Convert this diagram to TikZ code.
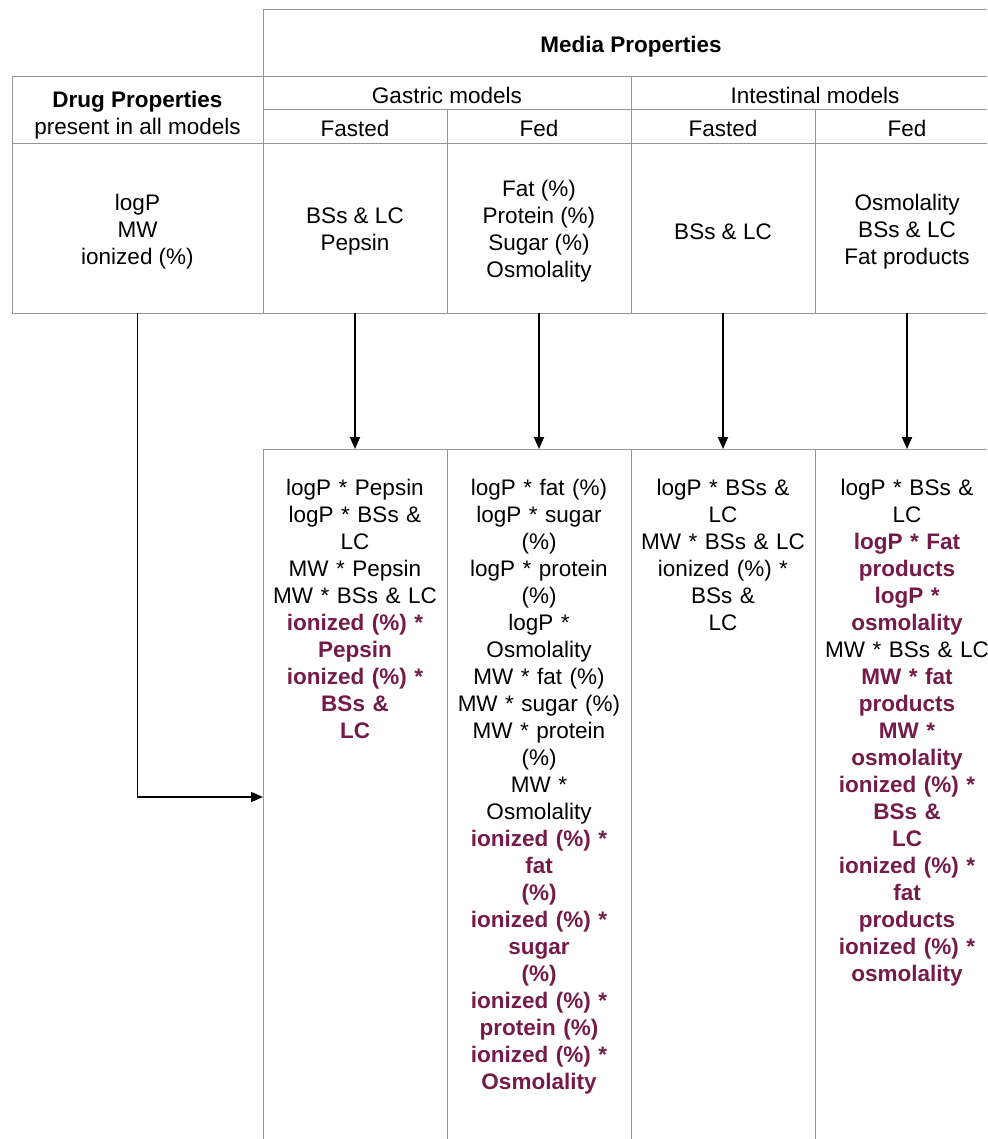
\documentclass[tikz,border=0pt]{standalone}
\usepackage{fontspec}
\setmainfont{Liberation Sans}
\usetikzlibrary{arrows.meta,positioning}
\definecolor{termpurple}{RGB}{116,27,71}
\definecolor{rulegray}{RGB}{150,150,150}
\newcommand{\kt}{\bfseries\color{termpurple}}

\begin{document}
\begin{tikzpicture}[x=0.5pt,y=-0.5pt,
      font=\fontsize{11.25}{13.5}\selectfont,
      rule/.style={draw=rulegray, line width=0.5pt},
      arr/.style={-{Triangle[length=6pt,width=5pt]}, line width=0.9pt, black},
      hd/.style={inner sep=0pt, align=center},
      cell/.style={minimum width=92pt, minimum height=81.5pt, inner sep=0pt, align=center},
      res/.style={anchor=north, align=center, text width=90pt, inner xsep=0pt, inner ysep=14.8pt}]
    \useasboundingbox (0,0) rectangle (987,1139);

    % table lines, top part
    \draw[rule] (263,10) -- (987,10);
    \draw[rule] (12,77) -- (987,77);
    \draw[rule] (263,110) -- (987,110);
    \draw[rule] (12,144) -- (987,144);
    \draw[rule] (12,313) -- (987,313);
    \draw[rule] (12,77) -- (12,313);
    \draw[rule] (263,10) -- (263,313);
    \draw[rule] (631,77) -- (631,313);
    \draw[rule] (447,110) -- (447,313);
    \draw[rule] (815,110) -- (815,313);
    % table lines, bottom part
    \draw[rule] (263,449) -- (987,449);
    \foreach \x in {263,447,631,815}
      \draw[rule] (\x,449) -- (\x,1139);

    % headers
    \node[hd, font=\fontsize{11.25}{13.5}\selectfont\bfseries] (media) at (631,47) {Media Properties};
    \node[hd] (drughd) at (137.5,115) {\textbf{Drug Properties}\\present in all models};
    \node[hd] (gastric) at (447,95) {Gastric models};
    \node[hd] (intest) at (815,95) {Intestinal models};
    \node[hd] (gfasthd) at (355,128) {Fasted};
    \node[hd] (gfedhd) at (539,128) {Fed};
    \node[hd] (ifasthd) at (723,128) {Fasted};
    \node[hd] (ifedhd) at (907,128) {Fed};

    % property cells
    \node[cell, minimum width=125.5pt] (drug) at (137.5,231.5) {logP\\MW\\ionized (\%)};
    \node[cell] (gfast) at (355,231.5) {BSs \& LC\\Pepsin};
    \node[cell] (gfed) at (539,231.5) {Fat (\%)\\Protein (\%)\\Sugar (\%)\\Osmolality};
    \node[cell] (ifast) at (723,231.5) {BSs \& LC};
    \node[cell] (ifed) at (907,231.5) {Osmolality\\BSs \& LC\\Fat products};

    % interaction cells
    \node[res] (rgfast) at (355,449) {logP * Pepsin\\logP * BSs \&\\LC\\MW * Pepsin\\MW * BSs \& LC\\
      {\kt ionized (\%) *\\Pepsin\\ionized (\%) *\\BSs \&\\LC}};
    \node[res] (rgfed) at (539,449) {logP * fat (\%)\\logP * sugar\\(\%)\\logP * protein\\(\%)\\logP *\\Osmolality\\
      MW * fat (\%)\\MW * sugar (\%)\\MW * protein\\(\%)\\MW *\\Osmolality\\
      {\kt ionized (\%) *\\fat\\(\%)\\ionized (\%) *\\sugar\\(\%)\\ionized (\%) *\\protein (\%)\\ionized (\%) *\\Osmolality}};
    \node[res] (rifast) at (723,449) {logP * BSs \&\\LC\\MW * BSs \& LC\\ionized (\%) *\\BSs \&\\LC};
    \node[res] (rifed) at (907,449) {logP * BSs \&\\LC\\{\kt logP * Fat\\products\\logP *\\osmolality}\\MW * BSs \& LC\\
      {\kt MW * fat\\products\\MW *\\osmolality\\ionized (\%) *\\BSs \&\\LC\\ionized (\%) *\\fat\\products\\ionized (\%) *\\osmolality}};

    \coordinate (join) at (263,797);

    % connectors
    \draw[arr] (gfast.south) -- (rgfast.north);
    \draw[arr] (gfed.south) -- (rgfed.north);
    \draw[arr] (ifast.south) -- (rifast.north);
    \draw[arr] (ifed.south) -- (rifed.north);
    \draw[arr] (drug.south) |- (join);
  \end{tikzpicture}
\end{document}
